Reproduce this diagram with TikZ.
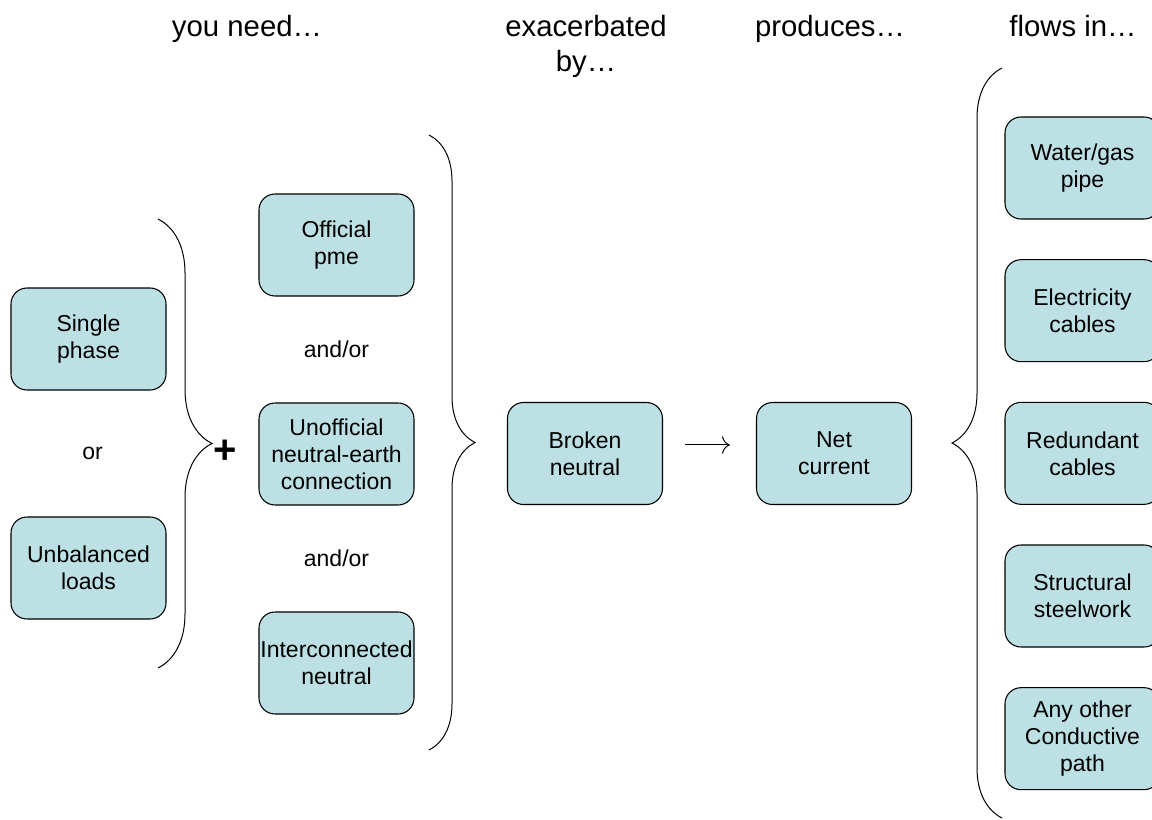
\documentclass[tikz,border=0pt]{standalone}
\usepackage{fontspec}
\setmainfont{Liberation Sans}
\usepackage{tikz}
\definecolor{boxteal}{RGB}{188, 224, 227}
\usetikzlibrary{arrows.meta, positioning, calc, decorations.pathreplacing}

\begin{document}
\begin{tikzpicture}[
    x=0.75pt, y=-0.75pt,
    node distance=29.7pt and 69.7pt,
    box/.style={rectangle, draw=black, line width=0.8pt, fill=boxteal,
                minimum width=116.25pt, minimum height=76.5pt, inner sep=0pt,
                align=center, rounded corners=12pt,
                font=\fontsize{17.25}{20.25}\selectfont},
    headtext/.style={anchor=north, inner sep=0pt, align=center,
                font=\fontsize{22}{26.25}\selectfont},
    plaintext/.style={inner sep=0pt, font=\fontsize{17.25}{20.25}\selectfont},
    curly/.style={decorate, line width=0.75pt, decoration={brace, amplitude=#1}}
]
    \useasboundingbox (0,0) rectangle (1152,820);
    \clip (0,0) rectangle (1152,820);

    % Headings
    \node[headtext] (need) at (247,15) {you need…};
    \node[headtext] (exac) at (586,15) {exacerbated\\by…};
    \node[headtext] (prod) at (830,15) {produces…};
    \node[headtext] (flows) at (1073,15) {flows in…};

    % Load
    \node[box] (single) at (88.5,339) {Single\\phase};
    \node[box, below=94.45pt of single] (unbal) {Unbalanced\\loads};
    \node[plaintext] (or) at ($(single)!0.5!(unbal)+(4,0)$) {or};

    % Earthing
    \node[box] (official) at (336.5,245) {Official\\pme};
    \node[box, below=79.45pt of official] (unofficial) {Unofficial\\neutral-earth\\connection};
    \node[box, below=79.45pt of unofficial] (inter) {Interconnected\\neutral};
    \node[plaintext] (andor1) at ($(official)!0.5!(unofficial)$) {and/or};
    \node[plaintext] (andor2) at ($(unofficial)!0.5!(inter)$) {and/or};
    \node[inner sep=0pt, font=\fontsize{30}{30}\selectfont\bfseries] (plus) at (225,452) {+};

    % Fault and result
    \node[box] (broken) at (585,453.5) {Broken\\neutral};
    \node[box, right=of broken] (net) {Net\\current};

    % Paths
    \node[box] (water) at (1082.5,168) {Water/gas\\pipe};
    \node[box, below=of water] (elec) {Electricity\\cables};
    \node[box, below=of elec] (redund) {Redundant\\cables};
    \node[box, below=of redund] (steel) {Structural\\steelwork};
    \node[box, below=of steel] (other) {Any other\\Conductive\\path};

    % Braces
    \coordinate (b1top) at (158,219);
    \coordinate (b1bot) at (158,668);
    \coordinate (b2top) at (429,135);
    \coordinate (b2bot) at (429,750);
    \coordinate (b3top) at (1002,68);
    \coordinate (b3bot) at (1002,818);
    \draw[curly=40.5pt] (b1top) -- (b1bot);
    \draw[curly=34.5pt] (b2top) -- (b2bot);
    \draw[curly=37.5pt] (b3bot) -- (b3top);

    % Arrow
    \draw[line width=0.75pt, -{To[length=6pt, width=13pt]}, shorten <=16.5pt, shorten >=19.5pt]
        ([yshift=6.4pt]broken.east) -- ([yshift=6.4pt]net.west);
\end{tikzpicture}
\end{document}
